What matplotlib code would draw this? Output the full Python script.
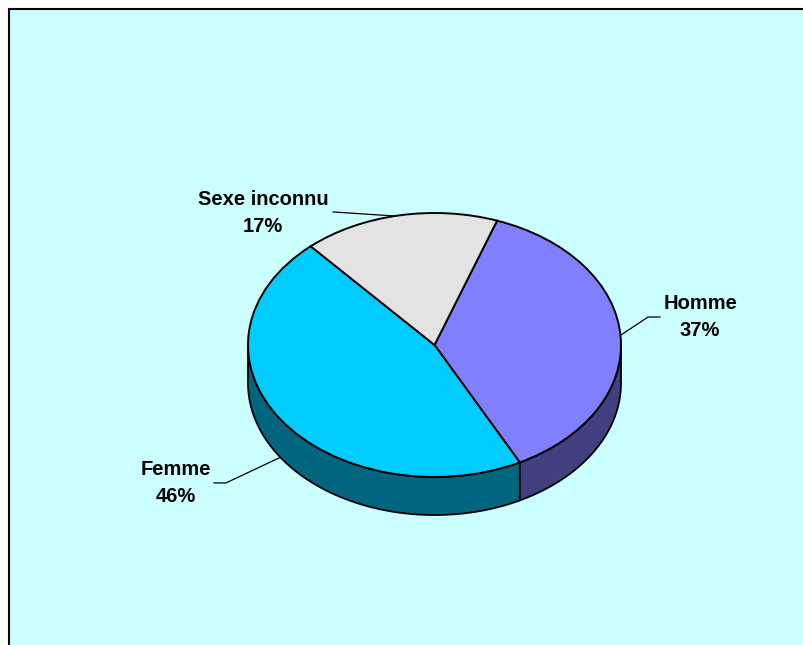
import numpy as np
import matplotlib.pyplot as plt
from matplotlib.patches import Rectangle

# repartition par sexe (%)
labels = ['Homme', 'Femme', 'Sexe inconnu']
values = [37, 46, 17]
top_colors = ['#8080FF', '#00CCFF', '#E3E3E3']
side_colors = ['#404080', '#006680', '#9A9A9A']

start = 70.4      # angle of the first wedge, clockwise from there
depth = 0.288     # thickness of the disc, in radius units (y)

fig = plt.figure(figsize=(8.04, 6.45), dpi=100, facecolor='white')
fig.add_artist(Rectangle((8.5 / 804, -0.02), 1.0, (645 - 8.5) / 645 + 0.02,
                         transform=fig.transFigure, facecolor='#CCFFFF',
                         edgecolor='black', linewidth=1.5, zorder=-1))

ax = fig.add_axes([0, 0, 1, 1])
ax.set_facecolor('none')

# side walls of the disc (only the front half is visible)
total = sum(values)
hi = start
for v, c in zip(values, side_colors):
    lo = hi - 360.0 * v / total
    for k in (-1, 0, 1):
        a1 = max(lo, -180 + 360 * k)
        a2 = min(hi, 0 + 360 * k)
        if a2 <= a1:
            continue
        t = np.radians(np.linspace(a1, a2, 120))
        xs = np.concatenate([np.cos(t), np.cos(t[::-1])])
        ys = np.concatenate([np.sin(t), np.sin(t[::-1]) - depth])
        ax.fill(xs, ys, facecolor=c, edgecolor='black', linewidth=1.3,
                joinstyle='round', zorder=1)
    hi = lo

# top face
ax.pie(values, colors=top_colors, startangle=start, counterclock=False,
       radius=1, center=(0, 0),
       wedgeprops=dict(edgecolor='black', linewidth=1.4, zorder=2))

ax.set_aspect('auto')
ax.set_xlim(-434.5 / 186.5, (804 - 434.5) / 186.5)
ax.set_ylim((345 - 645) / 132, 345 / 132)
ax.axis('off')

# labels with leader lines
label_pos = {'Homme': (1.424, 0.21), 'Femme': (-1.389, -1.045),
             'Sexe inconnu': (-0.92, 1.0)}
leaders = {'Homme': ([1.209, 1.145, 1.0], [0.212, 0.212, 0.076]),
           'Femme': ([-1.182, -1.118, -0.828], [-1.045, -1.045, -0.852]),
           'Sexe inconnu': ([-0.544, -0.212], [1.008, 0.977])}
for name, v in zip(labels, values):
    x, y = label_pos[name]
    ax.text(x, y, f'{name}\n{v}%', ha='center', va='center',
            fontsize=14.5, fontweight='bold', family='Liberation Sans',
            linespacing=1.55, zorder=5)
    lx, ly = leaders[name]
    ax.plot(lx, ly, color='black', linewidth=0.9, zorder=3)

fig.savefig('out.png', dpi=100, facecolor='white')
